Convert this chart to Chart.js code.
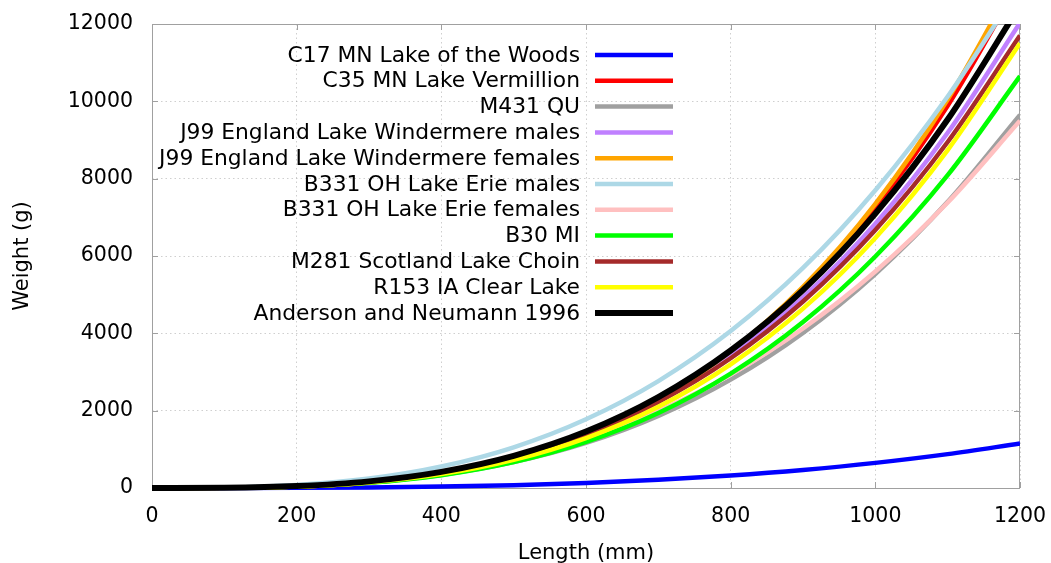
<!DOCTYPE html>
<html>
<head>
<meta charset="utf-8">
<title>Weight-length curves</title>
<script src="https://cdn.jsdelivr.net/npm/chart.js@4.4.1/dist/chart.umd.min.js"></script>
<style>
  html, body { margin: 0; padding: 0; background: #fff; }
  #wrap { width: 1051px; height: 563px; }
</style>
</head>
<body>
<div id="wrap"><canvas id="chart" width="1051" height="563"></canvas></div>
<script>
const lengths = [0, 100, 200, 300, 400, 500, 600, 700, 800, 900, 1000, 1100, 1200];

const seriesLabels = [
    'C17 MN Lake of the Woods',
    'C35 MN Lake Vermillion',
    'M431 QU',
    'J99 England Lake Windermere males',
    'J99 England Lake Windermere females',
    'B331 OH Lake Erie males',
    'B331 OH Lake Erie females',
    'B30 MI',
    'M281 Scotland Lake Choin',
    'R153 IA Clear Lake',
    'Anderson and Neumann 1996'
];

// Weight (g) at each length
const c17 = [0, 0.5, 4, 15, 37, 74, 131, 213, 323, 467, 650, 876, 1150];
const c35 = [0, 4, 39, 145, 369, 762, 1378, 2275, 3510, 5148, 7250, 9883, 13112];
const m431 = [0, 5, 41, 141, 338, 668, 1165, 1864, 2802, 4012, 5535, 7401, 9650];
const j99Males = [0, 5, 47, 164, 399, 797, 1403, 2263, 3423, 4931, 6836, 9186, 12030];
const j99Females = [0, 4, 37, 142, 364, 757, 1375, 2281, 3535, 5202, 7350, 10048, 13365];
const b331Males = [0, 10, 76, 243, 555, 1053, 1778, 2766, 4058, 5690, 7700, 10124, 12994];
const b331Females = [0, 7, 53, 171, 393, 750, 1273, 1990, 2931, 4125, 5599, 7382, 9500];
const b30 = [0, 4, 37, 133, 331, 670, 1192, 1940, 2958, 4291, 5987, 8091, 10650];
const m281 = [0, 5, 47, 164, 397, 789, 1383, 2224, 3356, 4824, 6673, 8949, 11700];
const r153 = [0, 4, 40, 145, 359, 726, 1290, 2099, 3198, 4638, 6468, 8739, 11500];
const anderson = [0, 6, 49, 171, 416, 830, 1459, 2350, 3556, 5117, 7096, 9530, 12480];

const xTicks = [0, 200, 400, 600, 800, 1000, 1200];
const yTicks = [0, 2000, 4000, 6000, 8000, 10000, 12000];

const seriesValues = [c17, c35, m431, j99Males, j99Females, b331Males, b331Females, b30, m281, r153, anderson];
const seriesColors = ['#0000ff', '#ff0000', '#a0a0a0', '#c080ff', '#ffa500', '#add8e6',
    '#ffc0c0', '#00ff00', '#a52a2a', '#ffff00', '#000000'];

const FONT = '"DejaVu Sans", Verdana, sans-serif';
const FRAME = '#a0a0a0';
const NONE = 'rgba(0,0,0,0)';

// gnuplot style frame with inward ticks on all four sides
const framePlugin = {
    id: 'frame',
    beforeDatasetsDraw(chart) {
        const { ctx, chartArea: a, scales } = chart;
        ctx.save();
        ctx.strokeStyle = FRAME;
        ctx.lineWidth = 1;
        ctx.strokeRect(a.left + 0.5, a.top + 0.5, a.right - a.left - 1, a.bottom - a.top);
        ctx.beginPath();
        xTicks.forEach(v => {
            const x = Math.round(scales.x.getPixelForValue(v)) + 0.5;
            ctx.moveTo(x, a.bottom); ctx.lineTo(x, a.bottom - 6);
            ctx.moveTo(x, a.top); ctx.lineTo(x, a.top + 6);
        });
        yTicks.forEach(v => {
            const y = Math.round(scales.y.getPixelForValue(v)) + 0.5;
            ctx.moveTo(a.left, y); ctx.lineTo(a.left + 6, y);
            ctx.moveTo(a.right, y); ctx.lineTo(a.right - 6, y);
        });
        ctx.stroke();
        ctx.restore();
    }
};

// key in the top left, text right aligned with a line sample after it
const keyPlugin = {
    id: 'key',
    afterDatasetsDraw(chart) {
        const ctx = chart.ctx;
        ctx.save();
        ctx.font = '21.8px ' + FONT;
        ctx.textAlign = 'right';
        ctx.textBaseline = 'middle';
        seriesLabels.forEach((label, i) => {
            const y = 55 + i * 25.8;
            ctx.fillStyle = '#000';
            ctx.fillText(label, 580, y + 1);
            ctx.strokeStyle = seriesColors[i];
            ctx.lineWidth = i === seriesLabels.length - 1 ? 6 : 4.5;
            ctx.beginPath();
            ctx.moveTo(595, y);
            ctx.lineTo(673, y);
            ctx.stroke();
        });
        ctx.restore();
    }
};

const datasets = seriesLabels.map((label, i) => ({
    label: label,
    data: lengths.map((x, j) => ({ x: x, y: seriesValues[i][j] })),
    borderColor: seriesColors[i],
    backgroundColor: seriesColors[i],
    borderWidth: i === seriesLabels.length - 1 ? 6 : 4.5,
    pointRadius: 0,
    fill: false,
    cubicInterpolationMode: 'monotone',
    order: seriesLabels.length - i,
    clip: { left: 6, top: 0, right: 0, bottom: 6 }
}));

new Chart(document.getElementById('chart'), {
    type: 'line',
    data: { datasets: datasets },
    options: {
        responsive: false,
        animation: false,
        layout: { padding: { left: 0, right: 31, top: 24, bottom: 0 } },
        plugins: {
            legend: { display: false },
            tooltip: { enabled: false }
        },
        scales: {
            x: {
                type: 'linear',
                min: 0,
                max: 1200,
                afterBuildTicks: s => { s.ticks = xTicks.map(v => ({ value: v })); },
                afterFit: s => { s.height = 75; },
                ticks: {
                    color: '#000', font: { family: FONT, size: 20.5 }, padding: 0, maxRotation: 0,
                    callback: v => String(v)
                },
                // transparent tick marks only push the labels away from the axis
                grid: { color: 'rgba(160,160,160,0.5)', drawTicks: true, tickLength: 16, tickColor: NONE },
                border: { display: false, dash: [1.5, 3] },
                title: {
                    display: true,
                    text: 'Length (mm)',
                    color: '#000',
                    font: { family: FONT, size: 21 },
                    padding: { top: 0, bottom: -3 }
                }
            },
            y: {
                type: 'linear',
                min: 0,
                max: 12000,
                afterBuildTicks: s => { s.ticks = yTicks.map(v => ({ value: v })); },
                afterFit: s => { s.width = 152; },
                ticks: {
                    color: '#000', font: { family: FONT, size: 20.5 }, padding: 0,
                    callback: v => String(v)
                },
                grid: { color: 'rgba(160,160,160,0.5)', drawTicks: true, tickLength: 19, tickColor: NONE },
                border: { display: false, dash: [1.5, 3] },
                title: {
                    display: true,
                    text: 'Weight (g)',
                    color: '#000',
                    font: { family: FONT, size: 21 },
                    padding: { top: 10, bottom: 0 }
                }
            }
        }
    },
    plugins: [framePlugin, keyPlugin]
});
</script>
</body>
</html>
